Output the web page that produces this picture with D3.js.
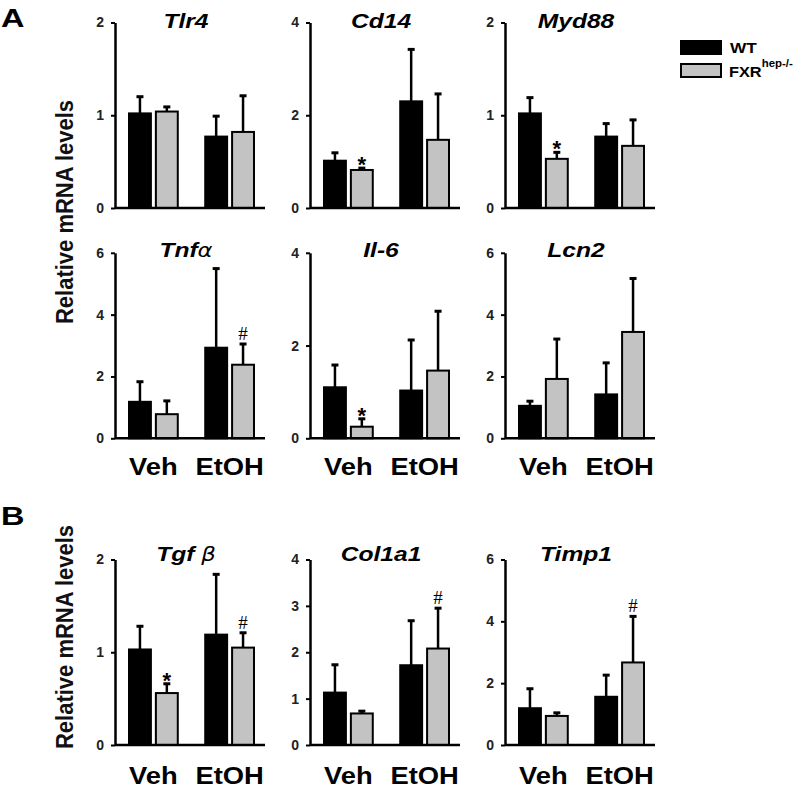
<!DOCTYPE html>
<html><head><meta charset="utf-8">
<script src="https://cdn.jsdelivr.net/npm/d3@7"></script>
<style>body{margin:0;background:#fff}</style>
</head><body>
<svg id="c" width="800" height="790"></svg>
<script>
// ---- data ----
const genes   = ["Tlr4","Cd14","Myd88","Tnfα","Il-6","Lcn2","Tgf β","Col1a1","Timp1"];
const yMax    = [2,4,2,6,4,6,2,4,6];
const yStep   = [1,2,1,2,2,2,1,1,2];
const groups  = ["Veh","EtOH"];
const series  = ["WT","FXR"];
const wtVeh     = [1.02,1.02,1.02,1.18,1.10,1.05,1.03,1.13,1.19];
const wtVehSE   = [0.18,0.17,0.17,0.65,0.48,0.15,0.25,0.60,0.63];
const fxrVeh    = [1.04,0.82,0.53,0.78,0.25,1.92,0.56,0.68,0.94];
const fxrVehSE  = [0.05,0.04,0.07,0.43,0.17,1.29,0.10,0.05,0.10];
const wtEtoh    = [0.77,2.30,0.77,2.93,1.03,1.42,1.19,1.72,1.56];
const wtEtohSE  = [0.22,1.12,0.14,2.56,1.09,1.02,0.65,0.96,0.70];
const fxrEtoh   = [0.82,1.47,0.67,2.38,1.46,3.44,1.05,2.08,2.67];
const fxrEtohSE = [0.39,0.99,0.28,0.67,1.28,1.73,0.16,0.87,1.49];
const sigVeh    = ["","*","*","","*","","*","",""];
const sigEtoh   = ["","","","#","","","#","#","#"];
const xLabelRows = [1,2];

// ---- layout ----
const svg = d3.select("#c");
const colX = [115,310,505];
const rowBase = [208,438.3,745];
const axH = 185.5;
const grey = "#c3c3c3";
const sans = "'Liberation Sans', Arial, sans-serif";

function addTitle(g, txt, cx, by){
  const t = g.append("text").attr("transform",`translate(${cx},${by}) scale(1.2,1)`)
    .attr("text-anchor","middle").attr("font-family",sans).attr("font-weight","bold")
    .attr("font-style","italic").attr("font-size",20.5);
  txt.split(/([αβ])/).filter(s=>s.length).forEach(s=>{
    const sp = t.append("tspan").text(s);
    if (/[αβ]/.test(s)) sp.attr("font-family","'DejaVu Sans'").attr("font-weight","normal").attr("font-size",19);
  });
}

genes.forEach((gene,i)=>{
  const r = Math.floor(i/3), c = i%3;
  const x0 = colX[c], y0 = rowBase[r];
  const g = svg.append("g");
  const y = d3.scaleLinear().domain([0,yMax[i]]).range([y0, y0-axH]);
  const xg = d3.scaleBand().domain(groups).range([x0+14, x0+139]).paddingInner(0.36).paddingOuter(0);
  const xs = d3.scaleBand().domain(series).range([0, xg.bandwidth()]).paddingInner(0.185);

  const data = [
    {grp:"Veh", s:"WT", v:wtVeh[i], e:wtVehSE[i], sig:""},
    {grp:"Veh", s:"FXR", v:fxrVeh[i], e:fxrVehSE[i], sig:sigVeh[i]},
    {grp:"EtOH", s:"WT", v:wtEtoh[i], e:wtEtohSE[i], sig:""},
    {grp:"EtOH", s:"FXR", v:fxrEtoh[i], e:fxrEtohSE[i], sig:sigEtoh[i]}
  ];

  // error bars (behind bars)
  data.forEach(d=>{
    const cx = xg(d.grp)+xs(d.s)+xs.bandwidth()/2;
    g.append("line").attr("x1",cx).attr("x2",cx).attr("y1",y(d.v)).attr("y2",y(d.v+d.e))
      .attr("stroke","#000").attr("stroke-width",2.5);
    g.append("line").attr("x1",cx-3.5).attr("x2",cx+3.5).attr("y1",y(d.v+d.e)).attr("y2",y(d.v+d.e))
      .attr("stroke","#000").attr("stroke-width",3);
  });
  // bars
  g.selectAll("rect.bar").data(data).enter().append("rect")
    .attr("x",d=>xg(d.grp)+xs(d.s)).attr("width",xs.bandwidth())
    .attr("y",d=>y(d.v)).attr("height",d=>y(0)-y(d.v))
    .attr("fill",d=>d.s==="WT"?"#000":grey).attr("stroke","#000").attr("stroke-width",2);
  // significance marks
  data.filter(d=>d.sig).forEach(d=>{
    const cx = xg(d.grp)+xs(d.s)+xs.bandwidth()/2;
    const top = y(d.v+d.e);
    if (d.sig==="*") {
      g.append("text").attr("x",cx).attr("y",top+4).attr("text-anchor","middle")
        .attr("font-family",sans).attr("font-weight","bold").attr("font-size",22).text("*");
    } else {
      g.append("text").attr("x",cx).attr("y",top-4).attr("text-anchor","middle")
        .attr("font-family","'Liberation Serif', serif").attr("font-size",19).text("#");
    }
  });
  // axis
  const ticks = d3.range(0, yMax[i]+yStep[i]/2, yStep[i]);
  const ax = g.append("g").attr("transform",`translate(${x0},0)`)
    .call(d3.axisLeft(y).tickValues(ticks).tickSize(4).tickSizeOuter(0).tickPadding(7).tickFormat(d3.format("d")));
  ax.select(".domain").attr("stroke-width",2.5);
  ax.selectAll(".tick line").attr("stroke-width",2);
  ax.selectAll(".tick text").attr("font-family",sans).attr("font-weight","bold").attr("font-size",14).attr("fill","#222");
  // baseline
  g.append("line").attr("x1",x0).attr("x2",x0+150).attr("y1",y(0)).attr("y2",y(0))
    .attr("stroke","#000").attr("stroke-width",2.5);
  // title
  const titleBase = [28,257,561][r];
  addTitle(g, gene, x0+71, titleBase);
  // x labels
  if (xLabelRows.includes(r)) {
    const lb = [0,475,784][r];
    groups.forEach(gr=>{
      g.append("text").attr("transform",`translate(${xg(gr)+xg.bandwidth()/2},${lb}) scale(1.14,1)`)
        .attr("text-anchor","middle").attr("font-family",sans).attr("font-weight","bold")
        .attr("font-size",24).text(gr);
    });
  }
});

// y labels
[212,637].forEach(cy=>{
  svg.append("text").attr("transform",`translate(73,${cy}) rotate(-90) scale(1,1.12)`).attr("text-anchor","middle")
    .attr("font-family",sans).attr("font-weight","bold").attr("font-size",22).attr("fill","#111").text("Relative mRNA levels");
});
// panel letters
[["A",27],["B",525]].forEach(([t,yb])=>{
  svg.append("text").attr("transform",`translate(1,${yb}) scale(1.25,1)`).attr("font-family",sans)
    .attr("font-weight","bold").attr("font-size",26).text(t);
});
// legend
const leg = svg.append("g");
const legItems = [{s:"WT", fill:"#000", y:41},{s:"FXR", fill:grey, y:64}];
legItems.forEach(d=>{
  leg.append("rect").attr("x",681).attr("y",d.y).attr("width",40).attr("height",13)
    .attr("fill",d.fill).attr("stroke","#000").attr("stroke-width",2);
});
leg.append("text").attr("transform","translate(730,53) scale(1.15,1)").attr("font-family",sans)
  .attr("font-weight","bold").attr("font-size",15).text("WT");
const fx = leg.append("text").attr("transform","translate(729,77) scale(1.09,1)").attr("font-family",sans)
  .attr("font-weight","bold").attr("font-size",15);
fx.append("tspan").text("FXR");
fx.append("tspan").attr("font-size",10.5).attr("dy",-10).text("hep-/-");
</script>
</body></html>
